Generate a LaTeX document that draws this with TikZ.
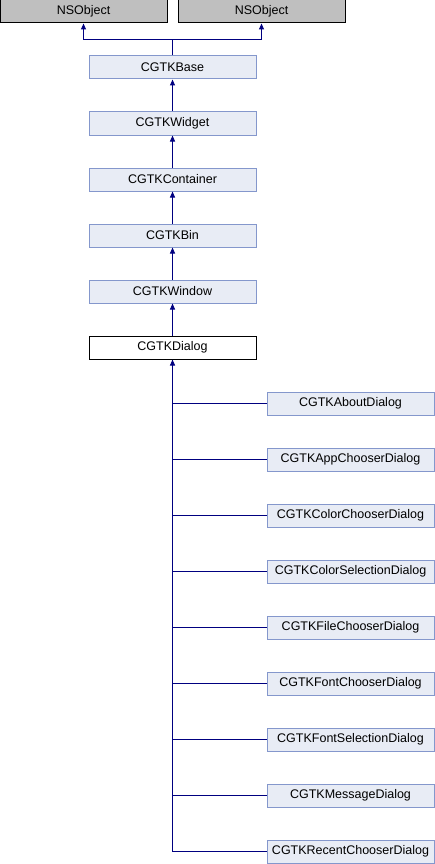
\documentclass[tikz,border=0pt]{standalone}
\usepackage{fontspec}
\setmainfont{Liberation Sans}
\usetikzlibrary{arrows.meta}
\definecolor{clsfill}{RGB}{232,236,245}
\definecolor{clsline}{RGB}{132,151,204}
\definecolor{extfill}{RGB}{191,191,191}
\definecolor{inhblue}{RGB}{0,0,128}

\begin{document}
\begin{tikzpicture}[x=1pt, y=-1pt,
    cls/.style={draw=clsline, fill=clsfill, line width=1pt, minimum width=167pt,
        minimum height=23pt, inner sep=0pt, font=\fontsize{12.5}{14}\selectfont},
    extcls/.style={cls, draw=black, fill=extfill},
    curcls/.style={cls, draw=black, fill=white},
    inh/.style={draw=inhblue, line width=1pt, -{Triangle[width=5pt,length=6pt]}},
    link/.style={draw=inhblue, line width=1pt}]
    \useasboundingbox (0,0) rectangle (435,864);

    % Root classes
    \node[extcls] (nsleft) at (83.5,11.5) {NSObject};
    \node[extcls] (nsright) at (261.5,11.5) {NSObject};

    % Main chain
    \node[cls] (base) at (172.5,67.5) {CGTKBase};
    \node[cls] (widget) at (172.5,123.5) {CGTKWidget};
    \node[cls] (container) at (172.5,179.5) {CGTKContainer};
    \node[cls] (bin) at (172.5,235.5) {CGTKBin};
    \node[cls] (window) at (172.5,291.5) {CGTKWindow};
    \node[curcls] (dialog) at (172.5,347.5) {CGTKDialog};

    % Join to both roots
    \coordinate (join) at (172.5,40);
    \draw[link] (base.north) -- (join);
    \draw[inh] (join) -| (nsleft.south);
    \draw[inh] (join) -| (nsright.south);

    \draw[inh] (widget) -- (base);
    \draw[inh] (container) -- (widget);
    \draw[inh] (bin) -- (container);
    \draw[inh] (window) -- (bin);
    \draw[inh] (dialog) -- (window);

    % Subclasses of CGTKDialog
    \foreach \name/\label [count=\i from 0] in {about/CGTKAboutDialog, appchooser/CGTKAppChooserDialog,
        colorchooser/CGTKColorChooserDialog, colorsel/CGTKColorSelectionDialog,
        filechooser/CGTKFileChooserDialog, fontchooser/CGTKFontChooserDialog,
        fontsel/CGTKFontSelectionDialog, message/CGTKMessageDialog,
        recent/CGTKRecentChooserDialog} {
        \node[cls] (\name) at (350.5,403.5+56*\i) {\label};
        \draw[link] (dialog.south |- \name.west) -- (\name.west);
    }
    \draw[inh] (dialog.south |- recent.west) -- (dialog.south);
\end{tikzpicture}
\end{document}
